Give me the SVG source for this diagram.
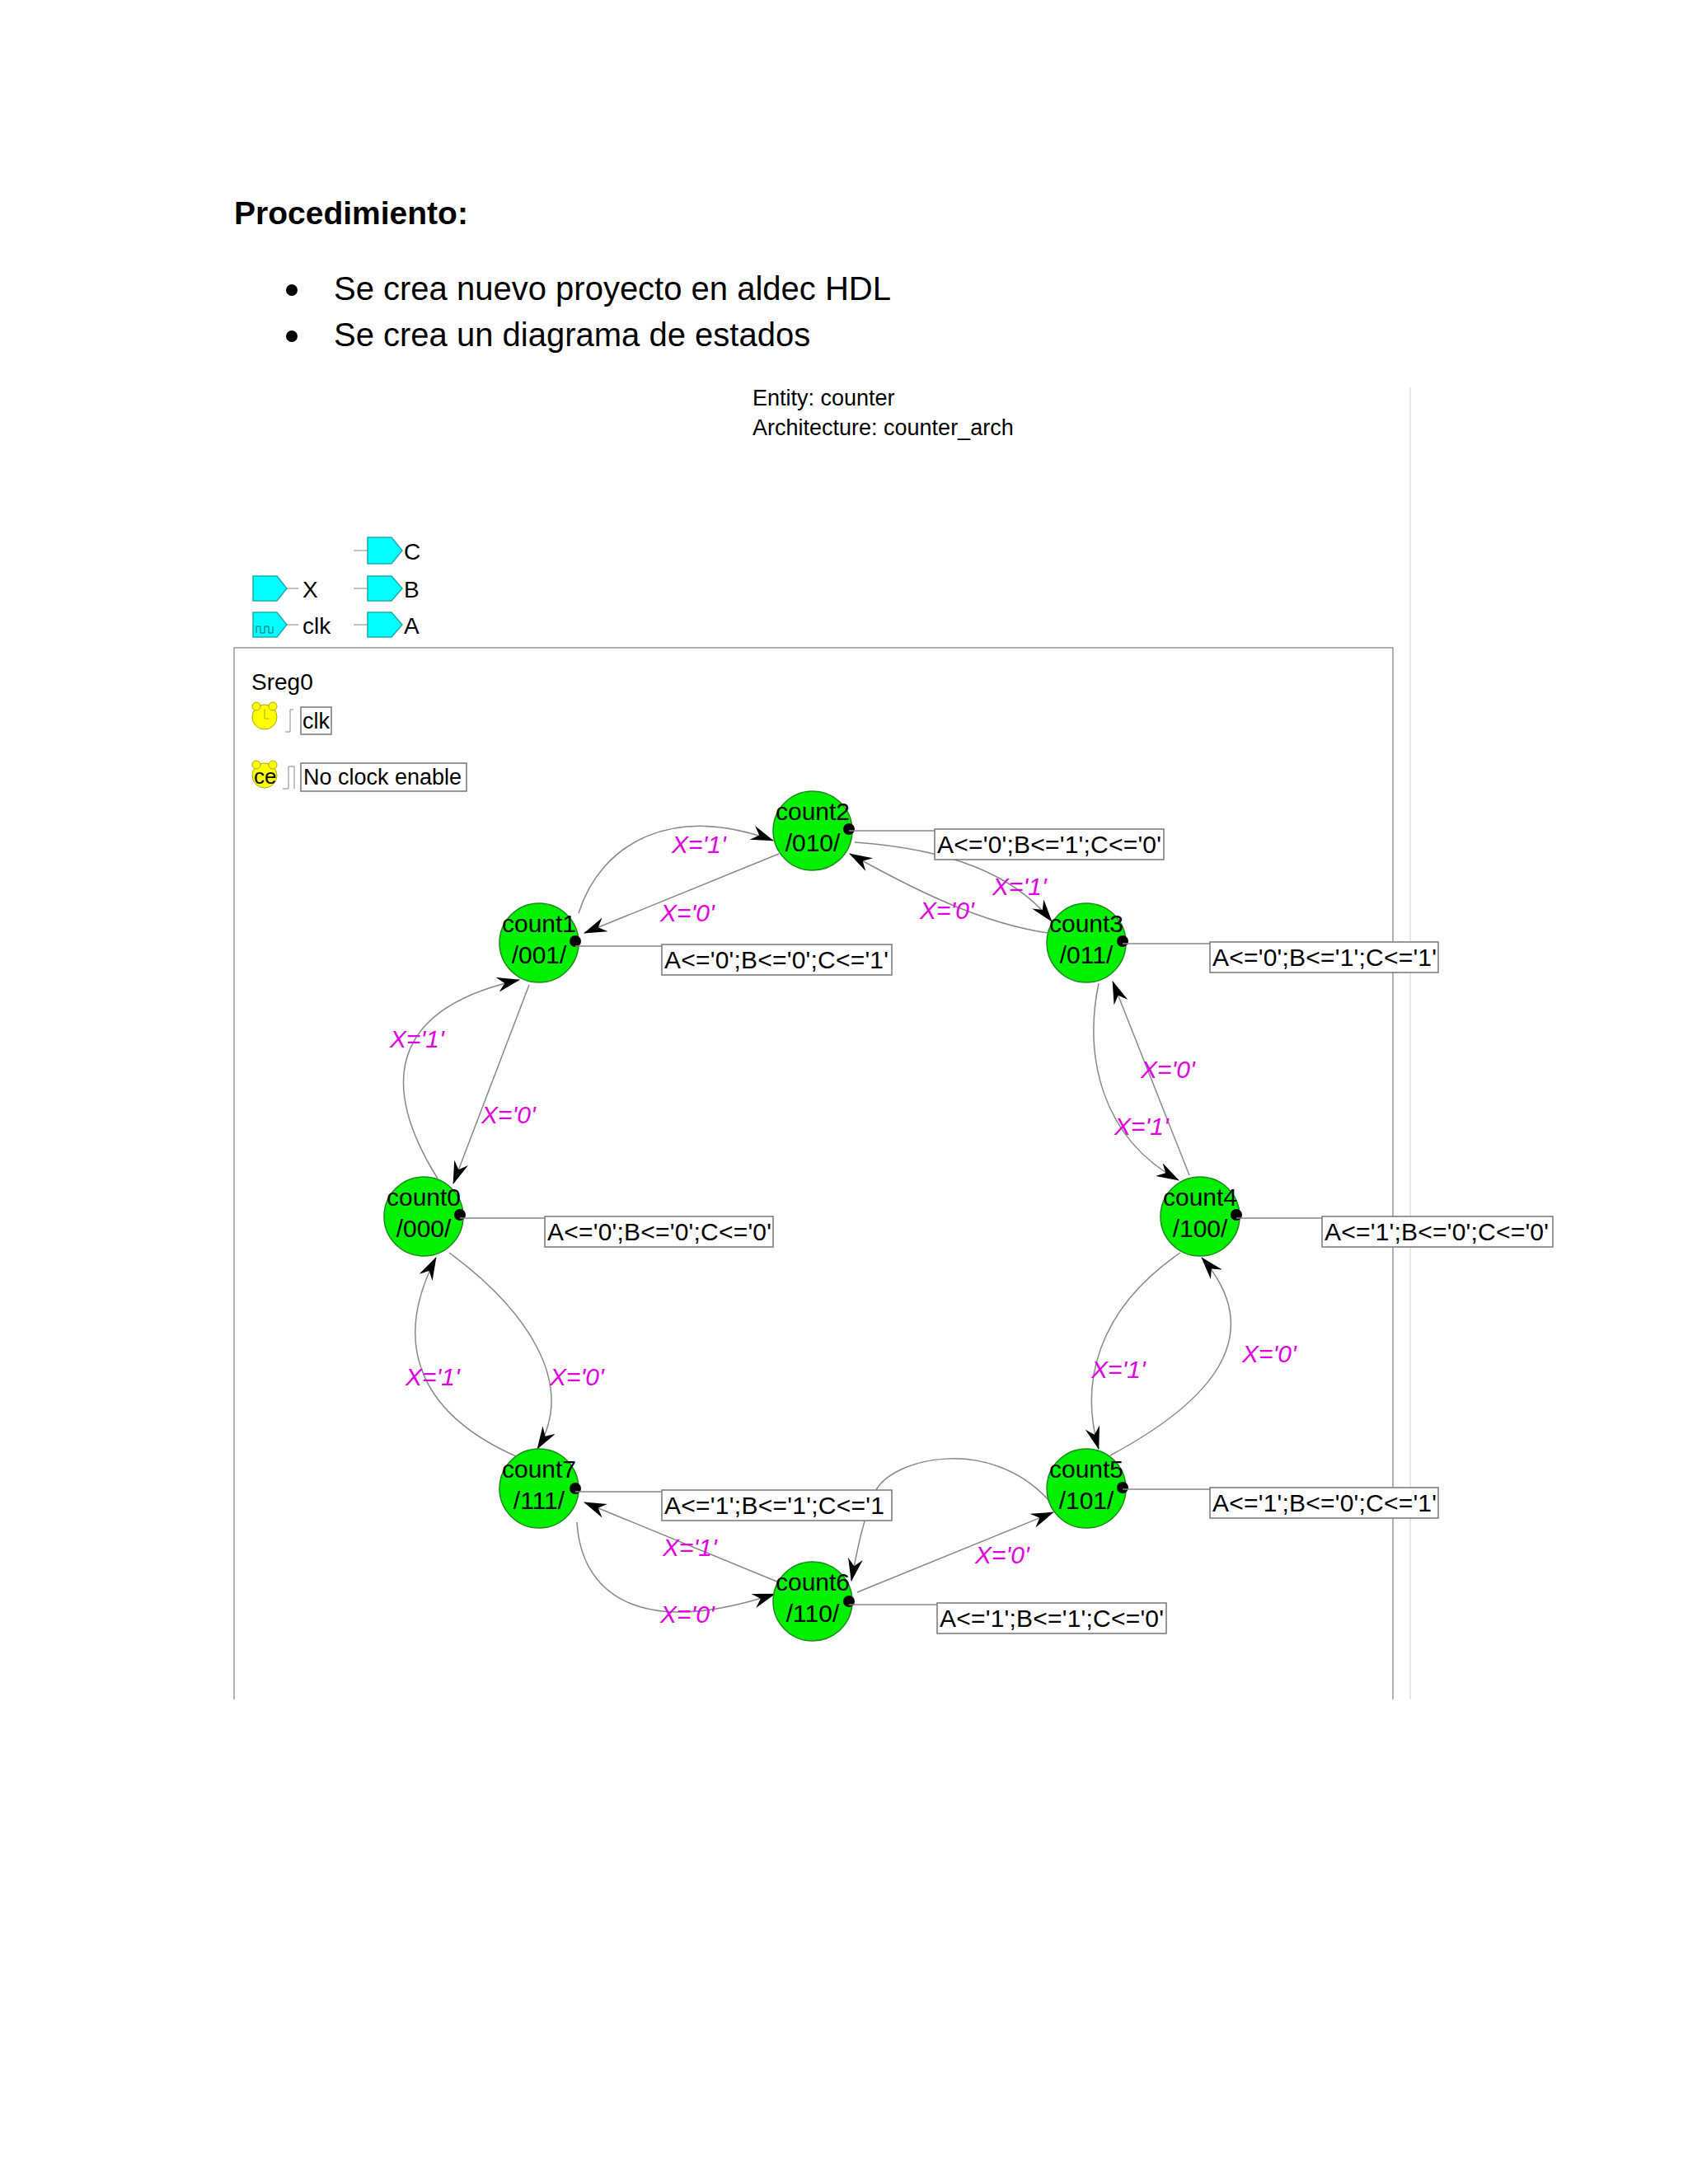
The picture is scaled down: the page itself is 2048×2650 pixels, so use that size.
<svg xmlns="http://www.w3.org/2000/svg" width="2048" height="2650" viewBox="0 0 2048 2650">
<style>
text{font-family:"Liberation Sans",Arial,sans-serif;fill:#000}
.st{fill:#00f000;stroke:#1a8a1a;stroke-width:1.5}
.sn{font-size:30px;text-anchor:middle}
.ab{fill:#fff;stroke:#777;stroke-width:1.5}
.at{font-size:30px}
.lab{font-size:30px;font-style:italic;fill:#e000e0}
.ln{stroke:#888;stroke-width:1.5;fill:none}
.tr{stroke:#888;stroke-width:1.5;fill:none;marker-end:url(#ar)}
.port{fill:#00ffff;stroke:#2aa;stroke-width:1.5}
</style>
<defs>
<marker id="ar" viewBox="0 0 28 18" refX="27" refY="9" markerWidth="28" markerHeight="18" markerUnits="userSpaceOnUse" orient="auto">
<path d="M0,0 L28,9 L0,18 L9,9 z" fill="#000"/>
</marker>
</defs>
<rect width="2048" height="2650" fill="#fff"/>
<text x="284" y="272" style="font-size:39px;font-weight:bold">Procedimiento:</text>
<circle cx="354" cy="352" r="7"/>
<text x="405" y="364" style="font-size:40px">Se crea nuevo proyecto en aldec HDL</text>
<circle cx="354" cy="408" r="7"/>
<text x="405" y="420" style="font-size:40px">Se crea un diagrama de estados</text>
<text x="913" y="492" style="font-size:27px">Entity: counter</text>
<text x="913" y="528" style="font-size:27px">Architecture: counter_arch</text>
<line x1="1711" y1="470" x2="1711" y2="2062" stroke="#e0e0e0" stroke-width="1.5"/>
<path d="M284,2062 V786 H1690 V2062" fill="none" stroke="#999" stroke-width="1.5"/>
<g id="port-X"><path class="port" d="M307,699 H336 L348,714 L336,729 H307 Z"/><line x1="348" y1="714" x2="362" y2="714" stroke="#888"/><text x="367" y="725" style="font-size:28px">X</text></g>
<g id="port-clk"><path class="port" d="M307,743 H336 L348,758 L336,773 H307 Z"/><path d="M311,768 V760 H316 V768 H321 V760 H326 V768 H331 V760" fill="none" stroke="#066" stroke-width="1"/><line x1="348" y1="758" x2="362" y2="758" stroke="#888"/><text x="367" y="769" style="font-size:28px">clk</text></g>
<g id="port-C"><line x1="429" y1="668" x2="446" y2="668" stroke="#888"/><path class="port" d="M446,652 H475 L488,668 L475,684 H446 Z"/><text x="490" y="679" style="font-size:28px">C</text></g>
<g id="port-B"><line x1="429" y1="714" x2="446" y2="714" stroke="#888"/><path class="port" d="M446,699 H475 L488,714 L475,729 H446 Z"/><text x="490" y="725" style="font-size:28px">B</text></g>
<g id="port-A"><line x1="429" y1="758" x2="446" y2="758" stroke="#888"/><path class="port" d="M446,743 H475 L488,758 L475,773 H446 Z"/><text x="490" y="769" style="font-size:28px">A</text></g>
<text x="305" y="837" style="font-size:28px">Sreg0</text>
<g id="clock">
<circle cx="321" cy="870" r="15" fill="#ffff00" stroke="#aa0"/>
<circle cx="311" cy="857" r="5" fill="#ffff00" stroke="#aa0"/><circle cx="331" cy="857" r="5" fill="#ffff00" stroke="#aa0"/>
<path d="M321,860 V872 H326" fill="none" stroke="#aa0"/>
<path d="M346,888 H352 V861 H356" fill="none" stroke="#888"/>
<rect class="ab" x="365" y="858" width="37" height="33"/><text x="367" y="884" style="font-size:27px">clk</text>
</g>
<g id="ce">
<circle cx="321" cy="941" r="15" fill="#ffff00" stroke="#aa0"/>
<circle cx="311" cy="928" r="5" fill="#ffff00" stroke="#aa0"/><circle cx="331" cy="928" r="5" fill="#ffff00" stroke="#aa0"/>
<text x="308" y="951" style="font-size:26px">ce</text>
<path d="M343,957 H350 V930 H357 V957" fill="none" stroke="#888"/>
<rect class="ab" x="365" y="926" width="201" height="34"/><text x="368" y="952" style="font-size:27px">No clock enable</text>
</g>
<g id="connectors">
<line class="tr" x1="945" y1="1036" x2="709" y2="1132"/>
<path class="tr" d="M702,1108 C730,1020 820,975 938,1020"/>
<path class="tr" d="M1037,1022 C1150,1030 1230,1060 1276,1118"/>
<path class="tr" d="M1271,1132 C1190,1120 1110,1080 1031,1036"/>
<path class="tr" d="M1333,1193 C1315,1280 1335,1380 1430,1432"/>
<line class="tr" x1="1443" y1="1426" x2="1350" y2="1191"/>
<line class="tr" x1="642" y1="1195" x2="550" y2="1436"/>
<path class="tr" d="M531,1430 C450,1300 490,1220 630,1189"/>
<path class="tr" d="M545,1520 C640,1590 700,1680 652,1758"/>
<path class="tr" d="M626,1767 C520,1720 470,1640 529,1526"/>
<path class="tr" d="M700,1847 C705,1930 770,1990 940,1934"/>
<line class="tr" x1="945" y1="1920" x2="709" y2="1823"/>
<line class="tr" x1="1040" y1="1932" x2="1278" y2="1835"/>
<path class="tr" d="M1273,1821 C1200,1740 1080,1770 1062,1810 C1048,1840 1040,1880 1033,1918"/>
<path class="tr" d="M1432,1520 C1330,1590 1310,1680 1333,1758"/>
<path class="tr" d="M1347,1766 C1470,1700 1540,1620 1458,1526"/>
<text class="lab" x="801" y="1118">X='0'</text>
<text class="lab" x="815" y="1035">X='1'</text>
<text class="lab" x="1204" y="1086">X='1'</text>
<text class="lab" x="1116" y="1115">X='0'</text>
<text class="lab" x="1352" y="1377">X='1'</text>
<text class="lab" x="1384" y="1308">X='0'</text>
<text class="lab" x="584" y="1363">X='0'</text>
<text class="lab" x="473" y="1271">X='1'</text>
<text class="lab" x="667" y="1681">X='0'</text>
<text class="lab" x="492" y="1681">X='1'</text>
<text class="lab" x="801" y="1969">X='0'</text>
<text class="lab" x="804" y="1888">X='1'</text>
<text class="lab" x="1183" y="1897">X='0'</text>
<text class="lab" x="1324" y="1672">X='1'</text>
<text class="lab" x="1507" y="1653">X='0'</text>
</g>
<g id="count2"><ellipse class="st" cx="986" cy="1008" rx="48" ry="48"/><text class="sn" x="986" y="995">count2</text><text class="sn" x="986" y="1033">/010/</text><circle cx="1030" cy="1006" r="7"/><line class="ln" x1="1030" y1="1008" x2="1134" y2="1008"/><rect class="ab" x="1134" y="1006" width="278" height="37"/><text class="at" x="1137" y="1035" textLength="272">A&lt;='0';B&lt;='1';C&lt;='0'</text></g>
<g id="count1"><ellipse class="st" cx="654" cy="1144" rx="48" ry="48"/><text class="sn" x="654" y="1131">count1</text><text class="sn" x="654" y="1169">/001/</text><circle cx="698" cy="1142" r="7"/><line class="ln" x1="698" y1="1148" x2="803" y2="1148"/><rect class="ab" x="803" y="1146" width="279" height="37"/><text class="at" x="806" y="1175" textLength="272">A&lt;='0';B&lt;='0';C&lt;='1'</text></g>
<g id="count3"><ellipse class="st" cx="1318" cy="1144" rx="48" ry="48"/><text class="sn" x="1318" y="1131">count3</text><text class="sn" x="1318" y="1169">/011/</text><circle cx="1362" cy="1142" r="7"/><line class="ln" x1="1362" y1="1145" x2="1468" y2="1145"/><rect class="ab" x="1468" y="1143" width="277" height="37"/><text class="at" x="1471" y="1172" textLength="272">A&lt;='0';B&lt;='1';C&lt;='1'</text></g>
<g id="count0"><ellipse class="st" cx="514" cy="1476" rx="48" ry="48"/><text class="sn" x="514" y="1463">count0</text><text class="sn" x="514" y="1501">/000/</text><circle cx="558" cy="1474" r="7"/><line class="ln" x1="558" y1="1478" x2="661" y2="1478"/><rect class="ab" x="661" y="1476" width="277" height="37"/><text class="at" x="664" y="1505" textLength="272">A&lt;='0';B&lt;='0';C&lt;='0'</text></g>
<g id="count4"><ellipse class="st" cx="1456" cy="1476" rx="48" ry="48"/><text class="sn" x="1456" y="1463">count4</text><text class="sn" x="1456" y="1501">/100/</text><circle cx="1500" cy="1474" r="7"/><line class="ln" x1="1500" y1="1478" x2="1604" y2="1478"/><rect class="ab" x="1604" y="1476" width="280" height="37"/><text class="at" x="1607" y="1505" textLength="272">A&lt;='1';B&lt;='0';C&lt;='0'</text></g>
<g id="count7"><ellipse class="st" cx="654" cy="1806" rx="48" ry="48"/><text class="sn" x="654" y="1793">count7</text><text class="sn" x="654" y="1831">/111/</text><circle cx="698" cy="1806" r="7"/><line class="ln" x1="698" y1="1810" x2="803" y2="1810"/><rect class="ab" x="803" y="1808" width="279" height="37"/><text class="at" x="806" y="1837" textLength="267">A&lt;='1';B&lt;='1';C&lt;='1</text></g>
<g id="count5"><ellipse class="st" cx="1318" cy="1806" rx="48" ry="48"/><text class="sn" x="1318" y="1793">count5</text><text class="sn" x="1318" y="1831">/101/</text><circle cx="1362" cy="1805" r="7"/><line class="ln" x1="1362" y1="1807" x2="1468" y2="1807"/><rect class="ab" x="1468" y="1805" width="277" height="37"/><text class="at" x="1471" y="1834" textLength="272">A&lt;='1';B&lt;='0';C&lt;='1'</text></g>
<g id="count6"><ellipse class="st" cx="986" cy="1943" rx="48" ry="48"/><text class="sn" x="986" y="1930">count6</text><text class="sn" x="986" y="1968">/110/</text><circle cx="1030" cy="1943" r="7"/><line class="ln" x1="1030" y1="1947" x2="1137" y2="1947"/><rect class="ab" x="1137" y="1945" width="278" height="37"/><text class="at" x="1140" y="1974" textLength="272">A&lt;='1';B&lt;='1';C&lt;='0'</text></g>
</svg>
